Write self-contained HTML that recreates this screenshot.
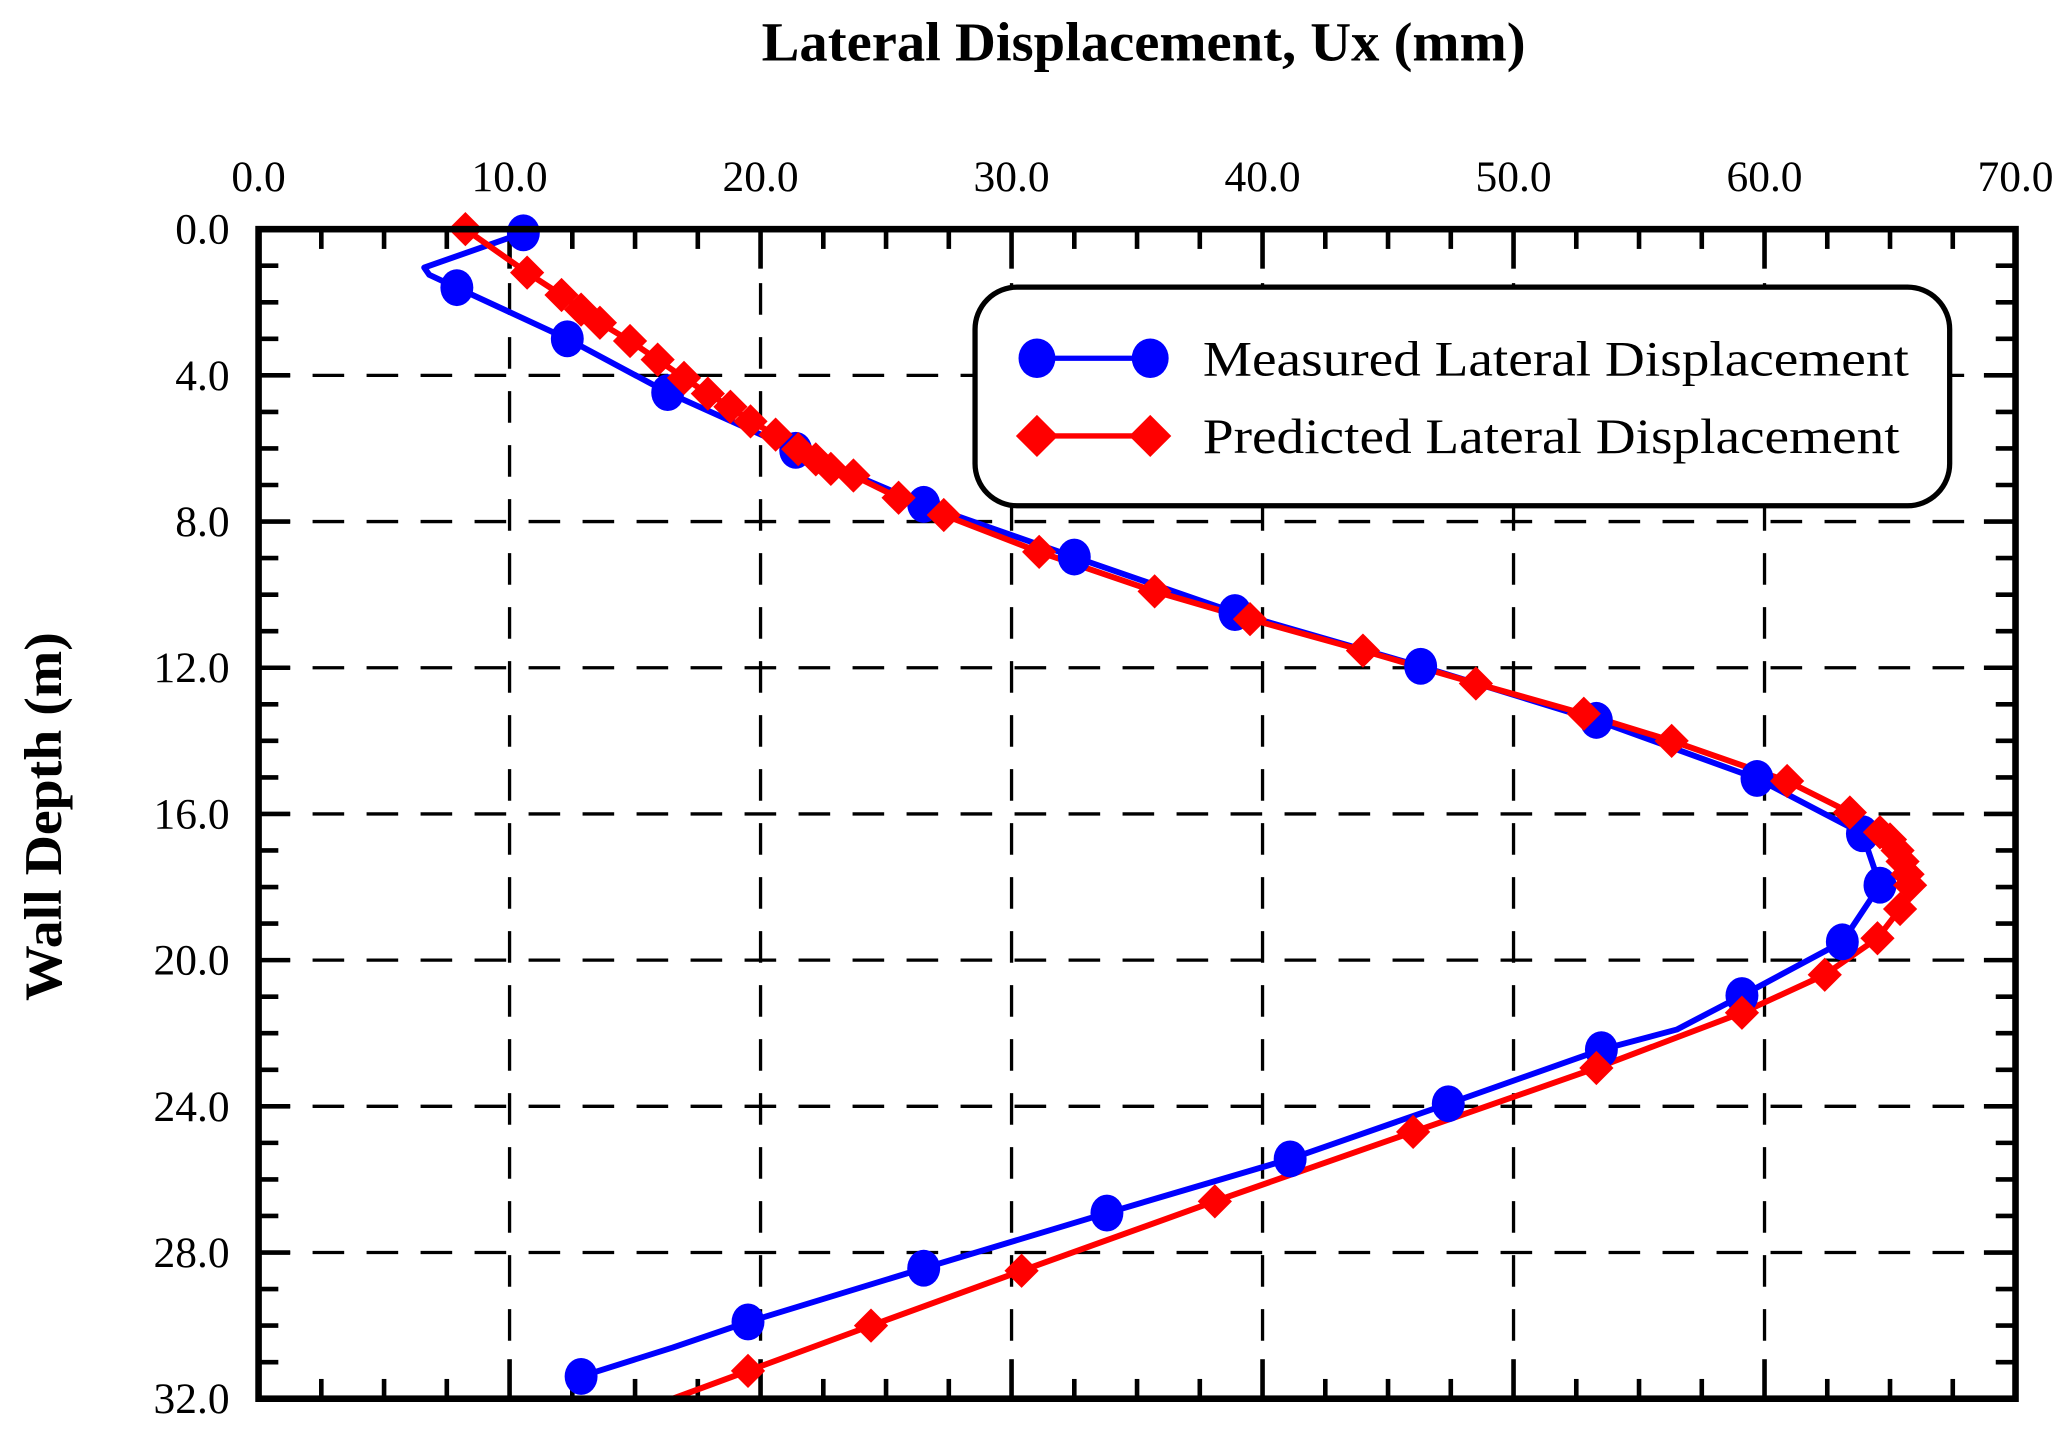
<!DOCTYPE html>
<html><head><meta charset="utf-8"><style>
html,body{margin:0;padding:0;background:#fff;}
svg{display:block;font-family:"Liberation Serif","Times New Roman",serif;}
</style></head><body>
<svg id="chart" width="2066" height="1429" viewBox="0 0 1568 1085" xmlns="http://www.w3.org/2000/svg">
<rect width="1568" height="1085" fill="#fff"/>
<g id="grid"></g>
<g id="ticks"></g>
<g id="series"></g>
<rect x="196" y="174" width="1334" height="888" fill="none" stroke="#000" stroke-width="5"/>
<text x="868" y="46" font-size="42" font-weight="bold" text-anchor="middle" textLength="580" lengthAdjust="spacingAndGlyphs">Lateral Displacement, Ux (mm)</text>
<text transform="translate(46,620) rotate(-90)" font-size="40" font-weight="bold" text-anchor="middle" textLength="280" lengthAdjust="spacingAndGlyphs">Wall Depth (m)</text>
<g>
<rect x="740" y="218" width="740" height="166" rx="32" fill="#fff" stroke="#000" stroke-width="4"/>
<g>
<line x1="787" y1="272" x2="873" y2="272" stroke="#0000ff" stroke-width="4"/>
<ellipse cx="787" cy="272" rx="14" ry="15" fill="#0000ff"/>
<ellipse cx="873" cy="272" rx="14" ry="15" fill="#0000ff"/>
<text x="913" y="285" font-size="38" textLength="536" lengthAdjust="spacingAndGlyphs">Measured Lateral Displacement</text>
</g>
<g>
<line x1="787" y1="331" x2="873" y2="331" stroke="#ff0000" stroke-width="4"/>
<polygon points="787,315 803,331 787,347 771,331" fill="#ff0000"/>
<polygon points="873,315 889,331 873,347 857,331" fill="#ff0000"/>
<text x="913" y="344" font-size="38" textLength="529" lengthAdjust="spacingAndGlyphs">Predicted Lateral Displacement</text>
</g>
</g>
</svg>
<script>
const xTicks = [0,10,20,30,40,50,60,70];
const xTickLabels = ["0.0","10.0","20.0","30.0","40.0","50.0","60.0","70.0"];
const yTicks = [0,4,8,12,16,20,24,28,32];
const yTickLabels = ["0.0","4.0","8.0","12.0","16.0","20.0","24.0","28.0","32.0"];
const measuredX = [10.55,7.9,12.3,16.3,21.4,26.5,32.5,38.9,46.3,53.3,59.7,63.9,64.6,63.1,59.1,53.5,47.4,41.1,33.8,26.5,19.5,12.85];
const measuredY = [0.1,1.6,3.0,4.47,6.05,7.53,8.97,10.49,11.96,13.44,15.03,16.54,17.95,19.5,20.97,22.45,23.93,25.44,26.92,28.43,29.9,31.39];
const measuredLineX = [10.55,6.6,6.8,7.9,12.3,16.3,21.4,26.5,32.5,38.9,46.3,53.3,59.7,63.9,64.6,63.1,59.1,56.5,53.5,47.4,41.1,33.8,26.5,19.5,16.5,12.85];
const measuredLineY = [0.1,1.05,1.25,1.6,3.0,4.47,6.05,7.53,8.97,10.49,11.96,13.44,15.03,16.54,17.95,19.5,20.97,21.9,22.45,23.93,25.44,26.92,28.43,29.9,30.6,31.39];
const predictedX = [8.24,10.7,12.07,12.85,13.6,14.8,15.9,16.95,17.9,18.8,19.6,20.6,21.5,22.2,22.8,23.7,25.5,27.3,31.1,35.7,39.5,44.0,48.5,52.8,56.3,60.9,63.4,64.6,65.0,65.3,65.5,65.7,65.8,65.4,64.5,62.4,59.1,53.3,46.0,38.1,30.4,24.4,19.5];
const predictedY = [0,1.19,1.8,2.2,2.56,3.06,3.57,4.07,4.5,4.86,5.26,5.62,6.02,6.3,6.56,6.74,7.35,7.82,8.83,9.91,10.67,11.53,12.43,13.26,14.0,15.1,15.96,16.5,16.7,17.0,17.3,17.65,17.95,18.6,19.4,20.4,21.44,22.95,24.7,26.6,28.5,30.0,31.24];
const predictedTailX = [19.5,16.5];
const predictedTailY = [31.24,32];

const NS = "http://www.w3.org/2000/svg";
const L=196,R=1530,T=174,B=1062;
const sx = v => L + (v-0)/(70-0)*(R-L);
const sy = v => T + (v-0)/(32-0)*(B-T);
function mk(tag, attrs, parent){ const e=document.createElementNS(NS,tag); for(const k in attrs) e.setAttribute(k,attrs[k]); parent.appendChild(e); return e; }
const grid=document.getElementById('grid'), ticks=document.getElementById('ticks'), series=document.getElementById('series'), svg=document.getElementById('chart');

xTicks.forEach((v,i)=>{
  const x=sx(v);
  if(v>0 && v<70){
    const g=mk('line',{x1:x,y1:T,x2:x,y2:B,stroke:'#000','stroke-width':2.5,'stroke-dasharray':'24,17'},grid);
    
    
  }
  const t=mk('text',{x:x,y:145,'font-size':33,'text-anchor':'middle'},svg);
  t.textContent=xTickLabels[i];
  
  
});
yTicks.forEach((v,i)=>{
  const y=sy(v);
  if(v>0 && v<32){
    const g=mk('line',{x1:L,y1:y,x2:R,y2:y,stroke:'#000','stroke-width':2.5,'stroke-dasharray':'24,17'},grid);
    
    
  }
  const t=mk('text',{x:174,y:y+11,'font-size':33,'text-anchor':'end'},svg);
  t.textContent=yTickLabels[i];
  
  
});
for(let v=0; v<=70; v+=2.5){
  const x=sx(v), len=(v%10===0)?30:15;
  mk('line',{x1:x,y1:T,x2:x,y2:T+len,stroke:'#000','stroke-width':3.5},ticks);
  mk('line',{x1:x,y1:B,x2:x,y2:B-len,stroke:'#000','stroke-width':3.5},ticks);
}
for(let v=0; v<=32; v+=1){
  const y=sy(v), len=(v%4===0)?24:15;
  mk('line',{x1:L,y1:y,x2:L+len,y2:y,stroke:'#000','stroke-width':3.5},ticks);
  mk('line',{x1:R,y1:y,x2:R-len,y2:y,stroke:'#000','stroke-width':3.5},ticks);
}

const pl = (xs,ys)=>xs.map((v,i)=>sx(v)+','+sy(ys[i])).join(' ');
const bl=mk('polyline',{points:pl(measuredLineX,measuredLineY),fill:'none',stroke:'#0000ff','stroke-width':4.5,'stroke-linejoin':'round'},series);


const rl=mk('polyline',{points:pl(predictedX.concat(predictedTailX),predictedY.concat(predictedTailY)),fill:'none',stroke:'#ff0000','stroke-width':4.5,'stroke-linejoin':'round'},series);


measuredX.forEach((v,i)=>{
  const c=mk('ellipse',{cx:sx(v),cy:sy(measuredY[i]),rx:12.5,ry:14,fill:'#0000ff'},series);
  
  
});
predictedX.forEach((v,i)=>{
  const x=sx(v), y=sy(predictedY[i]), s=13;
  const d=mk('polygon',{points:`${x},${y-s} ${x+s},${y} ${x},${y+s} ${x-s},${y}`,fill:'#ff0000'},series);
  
  
});
</script>
</body></html>
